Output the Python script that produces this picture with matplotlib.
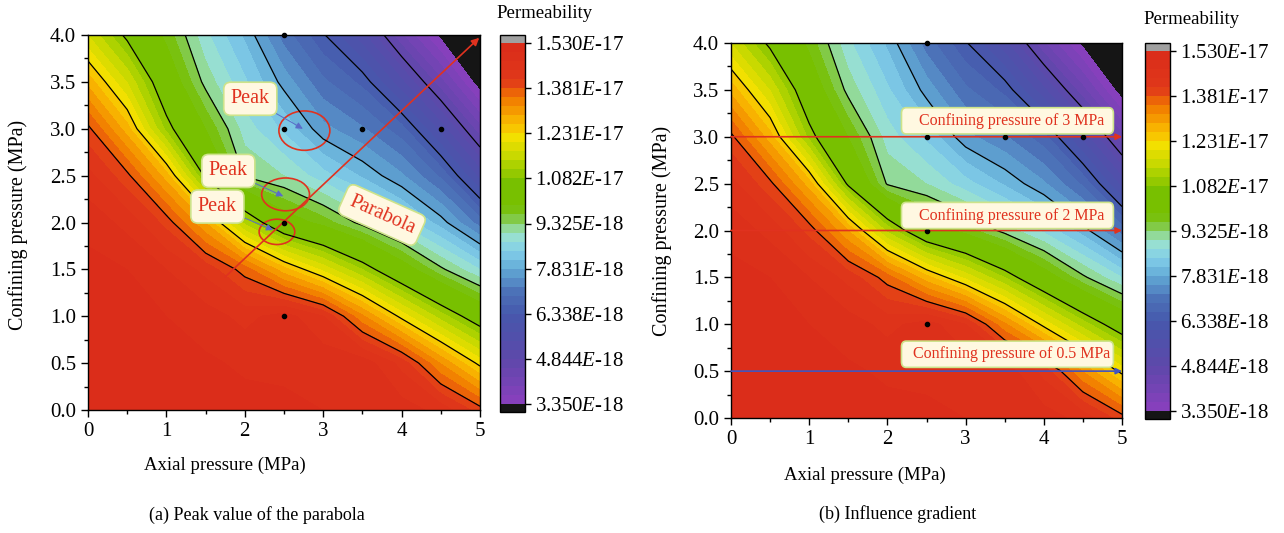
import numpy as np
import matplotlib.pyplot as plt
from matplotlib.colors import LinearSegmentedColormap
from matplotlib.patches import Ellipse, FancyBboxPatch

plt.rcParams['font.family'] = ['Liberation Serif', 'DejaVu Serif']
plt.rcParams['mathtext.fontset'] = 'custom'
plt.rcParams['mathtext.it'] = 'Liberation Serif:italic'
plt.rcParams['mathtext.rm'] = 'Liberation Serif'

axial = [0, 0.5, 1.0, 1.5, 2.0, 2.5, 3.0, 3.5, 4.0, 4.5, 5.0]
confining = [0, 0.5, 1.0, 1.5, 2.0, 2.5, 3.0, 3.5, 4.0]
perm = [
    [15.25, 15.25, 15.20, 15.15, 15.10, 15.05, 15.00, 14.95, 14.85, 14.60, 13.95],
    [15.25, 15.20, 15.15, 15.05, 14.95, 14.95, 14.90, 14.90, 14.30, 13.18, 12.20],
    [15.20, 15.15, 15.00, 14.85, 14.60, 14.85, 14.41, 13.26, 12.20, 11.27, 10.44],
    [15.10, 15.00, 14.70, 14.30, 13.66, 12.72, 11.92, 11.11, 10.22, 9.40, 8.72],
    [14.90, 14.60, 14.00, 12.89, 11.32, 10.22, 9.78, 9.21, 8.65, 7.98, 7.08],
    [14.50, 13.90, 12.75, 10.72, 9.28, 9.02, 8.55, 8.08, 7.58, 6.87, 5.63],
    [13.90, 12.74, 11.01, 9.91, 8.88, 8.36, 7.63, 7.27, 6.75, 5.62, 4.34],
    [12.80, 11.69, 10.34, 9.21, 8.48, 7.71, 7.00, 6.55, 5.51, 4.34, 3.13],
    [11.70, 10.70, 9.81, 8.80, 8.07, 7.09, 6.38, 5.53, 4.28, 3.25, 2.40],
]

cbar_ticks = [3.350e-18, 4.844e-18, 6.338e-18, 7.831e-18, 9.325e-18,
              1.082e-17, 1.231e-17, 1.381e-17, 1.530e-17]
cbar_labels = ['3.350$\\mathit{E}$-18', '4.844$\\mathit{E}$-18', '6.338$\\mathit{E}$-18',
               '7.831$\\mathit{E}$-18', '9.325$\\mathit{E}$-18', '1.082$\\mathit{E}$-17',
               '1.231$\\mathit{E}$-17', '1.381$\\mathit{E}$-17', '1.530$\\mathit{E}$-17']

# sample points
pts_x = [2.5, 2.5, 3.5, 4.5, 2.5, 2.5]
pts_y = [4.0, 3.0, 3.0, 3.0, 2.0, 1.0]

X, Y = np.meshgrid(axial, confining)
Z = np.array(perm) * 1e-18
levels = np.linspace(cbar_ticks[0], cbar_ticks[-1], 41)

anchors = [
    (0.0, '#8a3fbe'), (0.125, '#5d48aa'), (0.25, '#4658ac'), (0.31, '#4c72b8'),
    (0.375, '#62aad6'), (0.42, '#80cce8'), (0.46, '#98e0d8'), (0.5, '#8fd77a'),
    (0.52, '#7cc430'), (0.545, '#78c000'), (0.615, '#78c000'), (0.625, '#84c400'),
    (0.68, '#c0d800'), (0.74, '#f4e000'), (0.75, '#f8d400'), (0.8, '#f8a800'),
    (0.85, '#f07800'), (0.875, '#e85010'), (0.9, '#e0381a'), (1.0, '#da2b1a'),
]
cmap = LinearSegmentedColormap.from_list('perm', anchors)
cmap.set_under('#151515')
cmap.set_over('#a0a0a0')

RED = '#e0321f'
box_fc = '#fff8e1'
box_ec = '#cde38a'

fig = plt.figure(figsize=(12.84, 5.33), dpi=100)
W, H = 1284, 533


def rect(x0, y0, x1, y1):
    return [x0 / W, 1 - y1 / H, (x1 - x0) / W, (y1 - y0) / H]


def panel(ax_rect, cax_rect):
    ax = fig.add_axes(ax_rect)
    cs = ax.contourf(X, Y, Z, levels=levels, cmap=cmap, extend='both')
    ax.contour(X, Y, Z, levels=cbar_ticks[1:8], colors='k', linewidths=0.9)
    ax.plot(pts_x, pts_y, 'o', color='k', ms=3, zorder=5, clip_on=False)
    ax.set_xlim(0, 5)
    ax.set_ylim(0, 4)
    ax.set_xticks([0, 1, 2, 3, 4, 5])
    ax.set_xticks([0.5, 1.5, 2.5, 3.5, 4.5], minor=True)
    ax.set_yticks([0, 0.5, 1, 1.5, 2, 2.5, 3, 3.5, 4])
    ax.set_yticks([0.25, 0.75, 1.25, 1.75, 2.25, 2.75, 3.25, 3.75], minor=True)
    ax.set_yticklabels(['%.1f' % v for v in ax.get_yticks()])
    ax.tick_params(which='both', direction='out', labelsize=15, width=1)
    ax.tick_params(which='major', length=5)
    ax.tick_params(which='minor', length=3)
    for s in ax.spines.values():
        s.set_linewidth(1)
    cax = fig.add_axes(cax_rect)
    cb = fig.colorbar(cs, cax=cax, ticks=cbar_ticks, extendfrac=0.022, extendrect=True)
    cb.ax.set_yticklabels(cbar_labels)
    cb.ax.tick_params(labelsize=15, length=4, width=1)
    cb.ax.minorticks_off()
    cb.outline.set_linewidth(1)
    return ax


# (a)
ax1 = panel(rect(88, 35, 480, 410), rect(500, 35, 525, 412))
ax1.annotate('', xy=(4.99, 3.97), xytext=(1.75, 1.42),
             arrowprops=dict(arrowstyle='-|>', color=RED, lw=1.2, mutation_scale=11,
                             shrinkA=0, shrinkB=0))
for cx, cy, w, h in [(2.76, 2.98, 0.65, 0.42), (2.52, 2.30, 0.61, 0.35), (2.41, 1.90, 0.455, 0.27)]:
    ax1.add_patch(Ellipse((cx, cy), w, h, fill=False, ec=RED, lw=1.2))
for tx, ty, px, py in [(2.07, 3.32, 2.74, 3.0), (1.79, 2.55, 2.49, 2.28), (1.65, 2.17, 2.36, 1.92)]:
    ax1.annotate('Peak', xy=(px, py), xytext=(tx, ty), ha='center', va='center',
                 color=RED, fontsize=14.5,
                 bbox=dict(boxstyle='round,pad=0.35', fc=box_fc, ec=box_ec, lw=1.2),
                 arrowprops=dict(arrowstyle='-|>', color='#5a6cc8', lw=0.7,
                                 mutation_scale=10, shrinkA=0, shrinkB=0))
ax1.text(3.75, 2.08, 'Parabola', rotation=-24, ha='center', va='center', color=RED,
         fontsize=14.5, rotation_mode='anchor',
         bbox=dict(boxstyle='round,pad=0.35', fc=box_fc, ec=box_ec, lw=1.2))

# (b)
ax2 = panel(rect(731, 43, 1122, 418), rect(1145, 43, 1170, 419))
for yy, col in [(3.0, RED), (2.0, RED), (0.5, '#4255c0')]:
    ax2.annotate('', xy=(5.0, yy), xytext=(0.0, yy),
                 arrowprops=dict(arrowstyle='-|>', color=col, lw=1.2, mutation_scale=9,
                                 shrinkA=0, shrinkB=0))
for y0, label in [(3.03, 'Confining pressure of 3 MPa'), (2.02, 'Confining pressure of 2 MPa'),
                  (0.54, 'Confining pressure of 0.5 MPa')]:
    ax2.add_patch(FancyBboxPatch((2.18, y0), 2.71, 0.28,
                                 boxstyle='round,pad=0,rounding_size=0.06',
                                 fc=box_fc, ec=box_ec, lw=1.2, zorder=6))
    ax2.text(3.59, y0 + 0.14, label, ha='center', va='center', color=RED,
             fontsize=11.5, zorder=7)

# labels
fig.text(225 / W, 1 - 465 / H, 'Axial pressure (MPa)', ha='center', va='center', fontsize=13.5)
fig.text(865 / W, 1 - 475 / H, 'Axial pressure (MPa)', ha='center', va='center', fontsize=13.5)
fig.text(18 / W, 1 - 225 / H, 'Confining pressure (MPa)', rotation=90,
         ha='center', va='center', fontsize=14.5)
fig.text(662 / W, 1 - 231 / H, 'Confining pressure (MPa)', rotation=90,
         ha='center', va='center', fontsize=14.5)
fig.text(545 / W, 1 - 14 / H, 'Permeability', ha='center', va='center', fontsize=13.5)
fig.text(1192 / W, 1 - 20 / H, 'Permeability', ha='center', va='center', fontsize=13.5)
fig.text(257 / W, 1 - 515 / H, '(a) Peak value of the parabola', ha='center', va='center',
         fontsize=13)
fig.text(898 / W, 1 - 514 / H, '(b) Influence gradient', ha='center', va='center', fontsize=13)

fig.savefig('out.png', dpi=100)
